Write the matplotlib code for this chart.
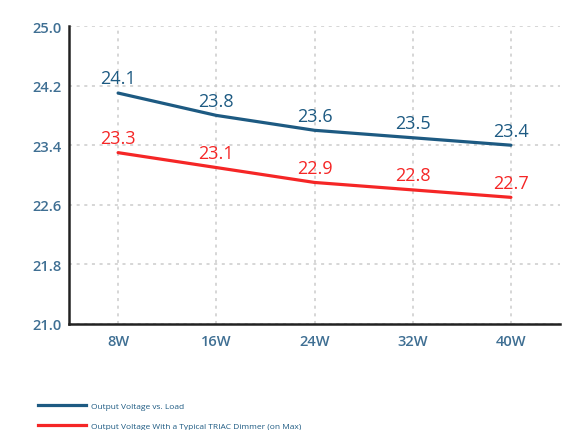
import matplotlib
matplotlib.use("Agg")
import matplotlib.pyplot as plt

loads = [8, 16, 24, 32, 40]
load_labels = ["8W", "16W", "24W", "32W", "40W"]
v_load = [24.1, 23.8, 23.6, 23.5, 23.4]
v_dimmer = [23.3, 23.1, 22.9, 22.8, 22.7]
y_ticks = [21.0, 21.8, 22.6, 23.4, 24.2, 25.0]
series_names = ["Output Voltage vs. Load",
                "Output Voltage With a Typical TRIAC Dimmer (on Max)"]

BLUE = "#1d5a82"
RED = "#f52626"
TICK = "#3f6f93"

plt.rcParams['font.family'] = ['Open Sans', 'DejaVu Sans']

fig = plt.figure(figsize=(5.62, 4.31), dpi=100)
ax = fig.add_axes([69/562, 1-325/431, 491/562, 298/431])

ax.plot(loads, v_load, color=BLUE, lw=2.3, solid_capstyle='round')
ax.plot(loads, v_dimmer, color=RED, lw=2.3, solid_capstyle='round')

for x, y in zip(loads, v_load):
    ax.annotate(f"{y:.1f}", (x, y), xytext=(0, 4), textcoords='offset points',
                ha='center', va='bottom', color=BLUE, fontsize=13)
for x, y in zip(loads, v_dimmer):
    ax.annotate(f"{y:.1f}", (x, y), xytext=(0, 4), textcoords='offset points',
                ha='center', va='bottom', color=RED, fontsize=13)

ax.set_xlim(4, 44)
ax.set_ylim(21.0, 25.0)
ax.set_xticks(loads)
ax.set_xticklabels(load_labels)
ax.set_yticks(y_ticks)
ax.set_yticklabels([f"{t:.1f}" for t in y_ticks])
ax.tick_params(length=0, labelsize=10.5, labelcolor=TICK)
ax.tick_params(axis='y', pad=5)
ax.tick_params(axis='x', pad=7)
for lab in ax.get_xticklabels() + ax.get_yticklabels():
    lab.set_fontweight('semibold')

ax.grid(True, color="#cccccc", linestyle=(0, (2, 3)), lw=1.1)
for s in ['top', 'right']:
    ax.spines[s].set_visible(False)
ax.spines['left'].set_color("#222222")
ax.spines['bottom'].set_color("#222222")
ax.spines['left'].set_linewidth(1.8)
ax.spines['bottom'].set_linewidth(1.8)
ax.set_axisbelow(True)

h1 = plt.Line2D([], [], color=BLUE, lw=2.3)
h2 = plt.Line2D([], [], color=RED, lw=2.3)
leg = fig.legend([h1, h2], series_names, loc='upper left',
                 bbox_to_anchor=(30/562, 1-396/431), frameon=False,
                 fontsize=6, handlelength=5.8, handletextpad=0.6,
                 labelspacing=1.4, labelcolor=BLUE)

fig.savefig("out.png", dpi=100, facecolor='white')
